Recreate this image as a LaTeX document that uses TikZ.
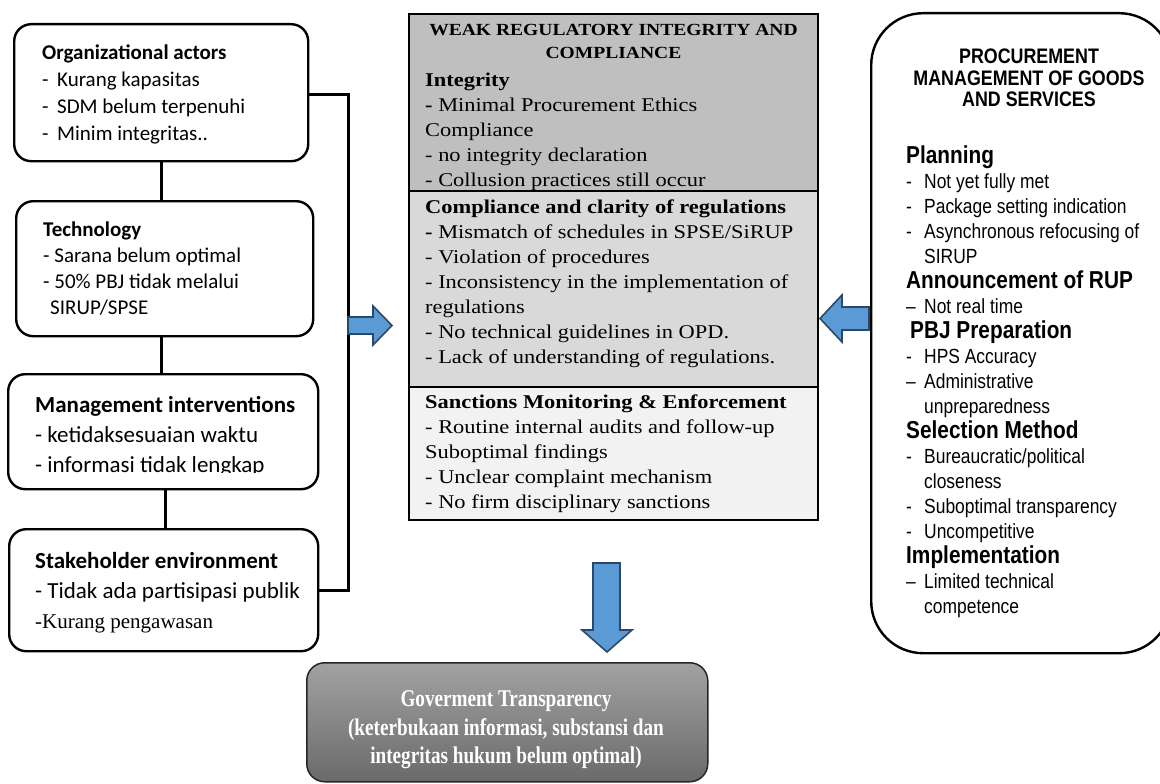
\documentclass[tikz,border=0pt]{standalone}
\usepackage{fontspec}
\setmainfont{Liberation Serif}
\newfontfamily\calib{Carlito}
\newfontfamily\cambr[FakeStretch=1.15]{Liberation Serif}
\newfontfamily\arialn[FakeStretch=0.85]{Liberation Sans}
\newfontfamily\timesn[FakeStretch=0.8]{Liberation Serif}
\usetikzlibrary{positioning}
\definecolor{ArrowBlue}{RGB}{91,155,213}
\definecolor{ArrowEdge}{RGB}{44,72,105}
\definecolor{SecA}{RGB}{191,191,191}
\definecolor{SecB}{RGB}{217,217,217}
\definecolor{SecC}{RGB}{242,242,242}
\definecolor{GovTop}{RGB}{162,162,162}
\definecolor{GovBot}{RGB}{106,106,106}
\newcommand{\pit}{\makebox[18pt][l]{-}}
\newcommand{\pdash}{\makebox[18pt][l]{\textendash}}
\newcommand{\pcont}{\hspace*{18pt}}
\newcommand{\phd}{\fontsize{24.5}{25}\selectfont\bfseries}

\begin{document}
\begin{tikzpicture}[x=1pt, y=-1pt,
  lbox/.style={draw, line width=2.4pt, rounded corners=17pt, fill=white, anchor=north west, inner sep=0pt},
  ltxt/.style={anchor=west, align=left, inner sep=0pt, font=\calib\fontsize{21}{27}\selectfont},
  sec/.style={draw, line width=1.8pt, anchor=north west, minimum width=409pt, inner sep=0pt, outer sep=0pt},
  ctxt/.style={anchor=north west, align=left, inner sep=0pt, font=\cambr\fontsize{19.5}{25}\selectfont},
  link/.style={line width=3pt},
  barrow/.style={fill=ArrowBlue, draw=ArrowEdge, line width=1.6pt, line join=miter}]
  \useasboundingbox (0,0) rectangle (1160,784);
  \clip (0,0) rectangle (1160,784);
  \fill[white] (0,0) rectangle (1160,784);

  % left column
  \node[lbox, minimum width=294pt, minimum height=137pt] (org) at (13,23) {};
  \node[ltxt] (orgtxt) at ([xshift=29pt, yshift=-1.5pt]org.west) {\textbf{Organizational actors}\\
    \makebox[15pt][l]{-}Kurang kapasitas\\
    \makebox[15pt][l]{-}SDM belum terpenuhi\\
    \makebox[15pt][l]{-}Minim integritas..};
  \node[lbox, minimum width=297pt, minimum height=135pt] (tech) at (15,200) {};
  \node[ltxt, font=\calib\fontsize{21}{26}\selectfont] (techtxt) at ([xshift=28pt]tech.west) {\textbf{Technology}\\
    - Sarana belum optimal\\
    - 50\% PBJ tidak melalui\\
    \hspace*{7pt}SIRUP/SPSE};
  \node[lbox, minimum width=310pt, minimum height=115pt] (mgmt) at (7,373) {};
  \begin{scope}
    \clip (0,360) rectangle (340,472);
    \node[ltxt, font=\calib\fontsize{23}{30}\selectfont] (mgmttxt) at ([xshift=28pt, yshift=-5pt]mgmt.west) {\textbf{Management interventions}\\
      - ketidaksesuaian waktu\\
      - informasi tidak lengkap};
  \end{scope}
  \node[lbox, minimum width=309pt, minimum height=122pt] (stake) at (8,528) {};
  \node[ltxt, font=\calib\fontsize{23}{30}\selectfont] (staketxt) at ([xshift=27pt, yshift=-2pt]stake.west) {\textbf{Stakeholder environment}\\
    - Tidak ada partisipasi publik\\
    {\rmfamily\fontsize{21}{27}\selectfont -Kurang pengawasan}};

  \draw[link] (org.south) -- (org.south |- tech.north);
  \draw[link] (tech.south -| org.south) -- (org.south |- mgmt.north);
  \draw[link] ([xshift=2pt]mgmt.south) -- ([xshift=2pt]mgmt.south |- stake.north);
  \coordinate (bus) at (348,95);
  \draw[link] (org.east |- bus) -- (bus) |- (stake.east);

  % centre column
  \node[sec, fill=SecA, minimum height=177pt] (integ) at (409,14) {};
  \node[sec, fill=SecB, minimum height=196pt] (comply) at (integ.south west) {};
  \node[sec, fill=SecC, minimum height=133pt] (sanct) at (comply.south west) {};
  \node[anchor=north, align=center, inner sep=0pt, font=\cambr\bfseries\fontsize{17}{23}\selectfont] (integhd) at (613.5,24) {WEAK REGULATORY INTEGRITY AND\\COMPLIANCE};
  \node[ctxt] (integtxt) at (425,73) {\textbf{Integrity}\\
    \textbf{-} Minimal Procurement Ethics\\
    Compliance\\
    - no integrity declaration\\
    - Collusion practices still occur};
  \node[ctxt] (complytxt) at (425,199.5) {\textbf{Compliance and clarity of regulations}\\
    \textbf{-} Mismatch of schedules in SPSE/SiRUP\\
    - Violation of procedures\\
    - Inconsistency in the implementation of\\
    regulations\\
    - No technical guidelines in OPD.\\
    - Lack of understanding of regulations.};
  \node[ctxt] (sancttxt) at (425,395) {\textbf{Sanctions Monitoring \& Enforcement}\\
    - Routine internal audits and follow-up\\
    Suboptimal findings\\
    - Unclear complaint mechanism\\
    - No firm disciplinary sanctions};

  % right column
  \node[draw, line width=2.4pt, rounded corners=52pt, anchor=north west, minimum width=300pt, minimum height=640pt, inner sep=0pt] (proc) at (870,12) {};
  \node[anchor=north, align=center, inner sep=0pt, font=\arialn\bfseries\fontsize{21}{21.5}\selectfont] (proctitle) at (1029,49) {PROCUREMENT\\MANAGEMENT OF GOODS\\AND SERVICES};
  \node[anchor=north west, align=left, inner sep=0pt, font=\arialn\fontsize{20.5}{25}\selectfont] (procbody) at (906,145.5) {{\phd Planning}\\
    \pit Not yet fully met\\
    \pit Package setting indication\\
    \pit Asynchronous refocusing of\\
    \pcont SIRUP\\
    {\phd Announcement of RUP}\\
    \pdash Not real time\\
    \hspace*{4pt}{\phd PBJ Preparation}\\
    \pit HPS Accuracy\\
    \pdash Administrative\\
    \pcont unpreparedness\\
    {\phd Selection Method}\\
    \pit Bureaucratic/political\\
    \pcont closeness\\
    \pit Suboptimal transparency\\
    \pit Uncompetitive\\
    {\phd Implementation}\\
    \pdash Limited technical\\
    \pcont competence};

  % result
  \node[draw=black!85, line width=1.5pt, rounded corners=18pt, top color=GovTop, bottom color=GovBot, anchor=north west, minimum width=401pt, minimum height=119pt, inner sep=0pt] (gov) at (306,662) {};
  \node[text=white, align=center, inner sep=0pt, font=\timesn\bfseries\fontsize{24}{28.5}\selectfont] (govtxt) at (506,730) {Goverment Transparency\\(keterbukaan informasi, substansi dan\\integritas hukum belum optimal)};

  % block arrows
  \draw[barrow] (bus |- 0,317) -- (373,317) -- (373,306) -- (392,325.5) -- (373,345) -- (373,334) -- (bus |- 0,334) -- cycle;
  \draw[barrow] (869,307) -- (842,307) -- (842,295) -- (820,318.5) -- (842,342) -- (842,330) -- (869,330) -- cycle;
  \draw[barrow] (593,563) -- (620,563) -- (620,630) -- (632,630) -- (607,652) -- (582,630) -- (593,630) -- cycle;
\end{tikzpicture}
\end{document}
